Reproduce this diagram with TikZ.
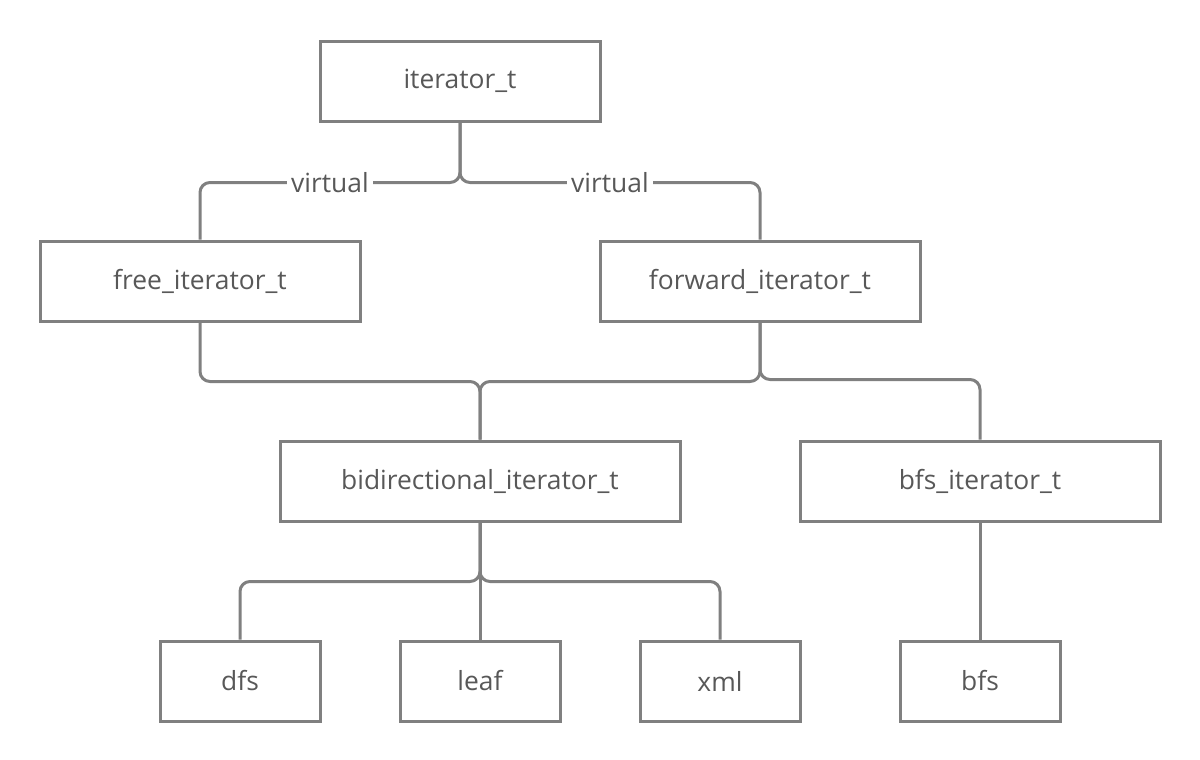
\documentclass[tikz,border=0pt]{standalone}
\usepackage{fontspec}
\setmainfont{Open Sans}
\usepackage{tikz}
\usetikzlibrary{positioning,calc}
\definecolor{linegray}{HTML}{808080}
\definecolor{textgray}{HTML}{585858}

\begin{document}
\begin{tikzpicture}[x=0.5pt,y=-0.5pt,
  cls/.style={draw=linegray, line width=1.5pt, text=textgray, font=\fontsize{13.2}{15}\selectfont,
    minimum height=40pt, inner sep=0pt},
  link/.style={draw=linegray, line width=1.5pt, rounded corners=5pt},
  tag/.style={fill=white, text=textgray, font=\fontsize{13.2}{15}\selectfont, inner sep=2pt}]
  \useasboundingbox (0,0) rectangle (1200,760);
  % class boxes
  \node[cls, minimum width=140pt] (iter) at (460,81) {iterator\_t};
  \node[cls, minimum width=160pt] (free) at (200,281) {free\_iterator\_t};
  \node[cls, minimum width=160pt] (fwd) at (760,281) {forward\_iterator\_t};
  \node[cls, minimum width=200pt] (bidir) at (480,481) {bidirectional\_iterator\_t};
  \node[cls, minimum width=180pt] (bfsit) at (980,481) {bfs\_iterator\_t};
  \node[cls, minimum width=80pt] (dfs) at (240,681) {dfs};
  \node[cls, minimum width=80pt] (leaf) at (480,681) {leaf};
  \node[cls, minimum width=80pt] (xml) at (720,681) {xml};
  \node[cls, minimum width=80pt] (bfs) at (980,681) {bfs};
  % inheritance links
  \draw[link] (iter.south) -- ++(0,60) -| node[tag, pos=0.25] (vfree) {virtual} (free.north);
  \draw[link] (iter.south) -- ++(0,60) -| node[tag, pos=0.25] (vfwd) {virtual} (fwd.north);
  \draw[link] (free.south) -- ++(0,59) -| (bidir.north);
  \draw[link] (fwd.south) -- ++(0,59) -| (bidir.north);
  \draw[link] (fwd.south) -- ++(0,57) -| (bfsit.north);
  \draw[link] (bidir.south) -- ++(0,59) -| (dfs.north);
  \draw[link] (bidir.south) -- (leaf.north);
  \draw[link] (bidir.south) -- ++(0,59) -| (xml.north);
  \draw[link] (bfsit.south) -- (bfs.north);
\end{tikzpicture}
\end{document}
